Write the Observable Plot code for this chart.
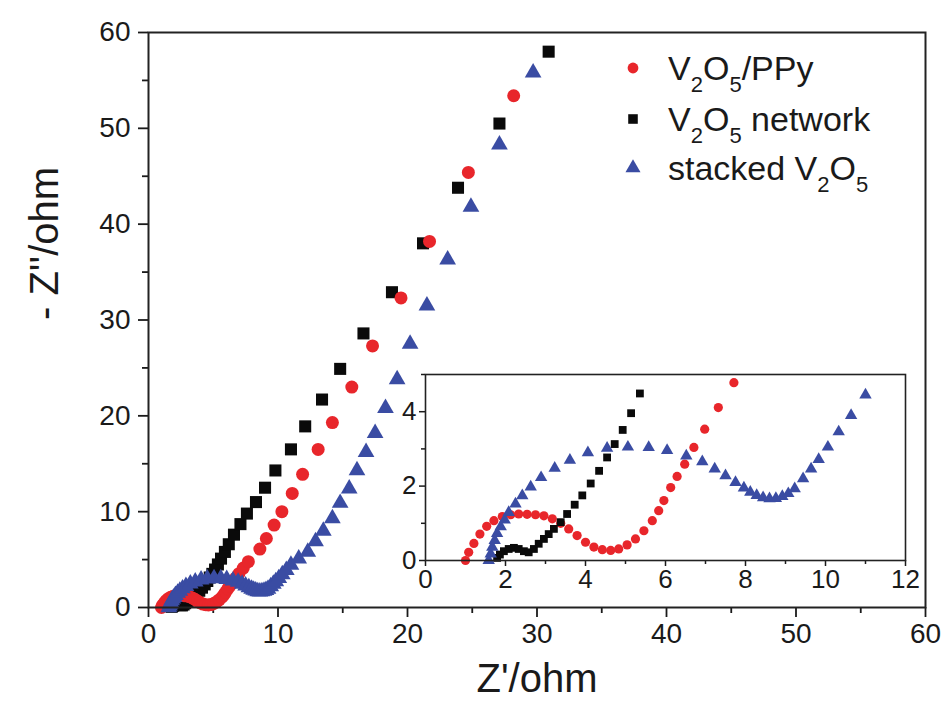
<!DOCTYPE html>
<html><head><meta charset="utf-8">
<script src="https://cdn.jsdelivr.net/npm/d3@7"></script>
<script src="https://cdn.jsdelivr.net/npm/@observablehq/plot@0.6"></script>
<style>
body{margin:0;background:#fff;}
#wrap{position:relative;width:946px;height:713px;overflow:hidden;font-family:"Liberation Sans",Arial,sans-serif;}
#wrap svg{position:absolute;}
</style></head><body><div id="wrap"></div><script>
// ---- data (Z' / ohm, -Z'' / ohm) ----
const ppyX = [1.0,1.08,1.21,1.36,1.53,1.71,1.92,2.13,2.33,2.54,2.75,2.96,3.17,3.38,3.58,3.79,4.0,4.21,4.42,4.63,4.83,5.04,5.25,5.46,5.67,5.83,5.96,6.13,6.29,6.48,6.71,6.98,7.32,7.71,8.6,9.1,9.7,10.3,11.1,11.9,13.1,14.2,15.7,17.3,19.5,21.7,24.7,28.2];
const ppyY = [0.0,0.22,0.46,0.71,0.92,1.07,1.18,1.23,1.25,1.24,1.23,1.2,1.12,1.0,0.85,0.67,0.49,0.36,0.29,0.27,0.31,0.42,0.58,0.8,1.07,1.34,1.61,1.96,2.26,2.59,3.04,3.53,4.11,4.78,6.1,7.2,8.6,10.0,11.9,13.9,16.5,19.3,23.0,27.3,32.3,38.2,45.4,53.4];
const netX = [1.79,1.86,1.96,2.08,2.21,2.33,2.46,2.58,2.71,2.83,2.96,3.08,3.21,3.38,3.54,3.73,3.92,4.13,4.34,4.54,4.73,4.93,5.14,5.36,5.6,5.9,6.2,6.6,7.1,7.6,8.3,9.0,9.8,11.0,12.1,13.4,14.8,16.6,18.8,21.2,23.9,27.1,30.9];
const netY = [0.07,0.16,0.25,0.31,0.34,0.31,0.25,0.22,0.31,0.45,0.58,0.71,0.85,1.03,1.25,1.5,1.75,2.07,2.41,2.77,3.13,3.51,3.96,4.49,5.1,5.8,6.6,7.6,8.7,9.8,11.0,12.5,14.3,16.5,18.9,21.7,24.9,28.6,32.9,38.0,43.8,50.5,58.0];
const stkX = [1.58,1.63,1.67,1.73,1.79,1.88,1.98,2.08,2.25,2.42,2.63,2.89,3.23,3.61,4.06,4.54,5.06,5.58,6.04,6.52,6.92,7.23,7.5,7.75,7.96,8.12,8.28,8.44,8.6,8.76,8.92,9.07,9.23,9.44,9.64,9.83,10.06,10.33,10.64,11.0,11.6,12.3,12.9,13.5,14.2,14.8,15.5,16.1,16.8,17.5,18.3,19.2,20.2,21.5,23.1,24.9,27.1,29.7];
const stkY = [0.0,0.18,0.36,0.54,0.73,0.91,1.09,1.29,1.52,1.74,1.98,2.23,2.48,2.7,2.9,3.02,3.05,3.04,2.96,2.81,2.66,2.46,2.28,2.1,1.95,1.84,1.75,1.69,1.66,1.67,1.72,1.8,1.93,2.2,2.46,2.72,3.05,3.46,3.9,4.45,5.1,5.8,6.9,8.0,9.3,10.9,12.4,14.3,16.2,18.2,20.8,23.8,27.5,31.5,36.3,41.8,48.3,55.8];

const seriesNames = ["V2O5/PPy", "V2O5 network", "stacked V2O5"];
const seriesColors = ["#e8262b", "#0a0a0a", "#3a4ca3"];
const seriesSymbols = ["circle", "square", "triangle"];

const mainTicks = [0,10,20,30,40,50,60];
const mainMinor = [5,15,25,35,45,55];
const insetXTicks = [0,2,4,6,8,10,12];
const insetXMinor = [1,3,5,7,9,11];
const insetYTicks = [0,2,4];
const insetYMinor = [1,3,5];

const xTitle = "Z'/ohm";
const yTitle = "- Z''/ohm";

const pts = (xs, ys) => xs.map((x, i) => ({x, y: ys[i]}));
const ppy = pts(ppyX, ppyY), net = pts(netX, netY), stk = pts(stkX, stkY);

const font = "Liberation Sans, Arial, sans-serif";
const ink = "#1a1a1a";
const fmt = d3.format("d");

const main = Plot.plot({
  width: 946, height: 713,
  marginLeft: 148, marginRight: 21, marginTop: 32, marginBottom: 106,
  x: {domain: [0, 60]}, y: {domain: [0, 60]},
  style: {fontFamily: font, color: ink, background: "transparent", overflow: "visible"},
  marks: [
    Plot.axisX({ticks: mainTicks, tickFormat: fmt, tickSize: 10, tickPadding: 6, fontSize: 28, label: null, strokeWidth: 1.8}),
    Plot.axisX({ticks: mainMinor, tickSize: 6, text: null, label: null, strokeWidth: 1.8}),
    Plot.axisY({ticks: mainTicks, tickFormat: fmt, tickSize: 10, tickPadding: 8, fontSize: 28, label: null, strokeWidth: 1.8}),
    Plot.axisY({ticks: mainMinor, tickSize: 6, text: null, label: null, strokeWidth: 1.8}),
    Plot.dot(net, {x: "x", y: "y", symbol: seriesSymbols[1], r: 6.8, fill: seriesColors[1]}),
    Plot.dot(ppy, {x: "x", y: "y", symbol: seriesSymbols[0], r: 6.5, fill: seriesColors[0]}),
    Plot.dot(stk, {x: "x", y: "y", symbol: seriesSymbols[2], r: 6.2, fill: seriesColors[2]}),
    Plot.frame({stroke: "#222", strokeWidth: 2}),
    Plot.text([xTitle], {frameAnchor: "bottom", dy: 84, fontSize: 40, fill: ink}),
    Plot.text([yTitle], {frameAnchor: "left", dx: -103, rotate: -90, fontSize: 40, fill: ink})
  ]
});
main.style.left = "0px"; main.style.top = "0px";
document.getElementById("wrap").appendChild(main);

// legend (inside main frame, top-right)
const leg = d3.select(main).append("g")
  .attr("font-family", font).attr("fill", ink).attr("text-anchor", "start");
const legRows = [68, 119, 168];
const legParts = [
  [["V",0],["2",1],["O",0],["5",1],["/PPy",0]],
  [["V",0],["2",1],["O",0],["5",1],[" network",0]],
  [["stacked V",0],["2",1],["O",0],["5",1]]
];
const symGen = (s, r) => d3.symbol(s === "circle" ? d3.symbolCircle : s === "square" ? d3.symbolSquare : d3.symbolTriangle, Math.PI * r * r)();
legRows.forEach((cy, i) => {
  leg.append("path").attr("d", symGen(seriesSymbols[i], i === 2 ? 5.6 : 5.4))
     .attr("transform", `translate(633,${cy})`).attr("fill", seriesColors[i]);
  const t = leg.append("text").attr("x", 668).attr("y", cy + 12).attr("font-size", 34)
     .attr("text-anchor", "start").style("white-space", "pre");
  let sub = false;
  legParts[i].forEach(([s, isSub]) => {
    const ts = t.append("tspan").text(s);
    if (isSub && !sub) { ts.attr("dy", 12).attr("font-size", 22); sub = true; }
    else if (isSub && sub) { ts.attr("font-size", 22); }
    else if (!isSub && sub) { ts.attr("dy", -12); sub = false; }
  });
});

// inset
const inIn = d => d.x <= 12 && d.y <= 5;
const inset = Plot.plot({
  width: 540, height: 231,
  marginLeft: 40, marginRight: 20, marginTop: 5, marginBottom: 40,
  x: {domain: [0, 12]}, y: {domain: [0, 5]},
  style: {fontFamily: font, color: ink, background: "transparent", overflow: "visible"},
  marks: [
    Plot.frame({fill: "white", stroke: null}),
    Plot.axisX({ticks: insetXTicks, tickFormat: fmt, tickSize: 6, tickPadding: 3, fontSize: 26, label: null, strokeWidth: 1.5}),
    Plot.axisX({ticks: insetXMinor, tickSize: 4, text: null, label: null, strokeWidth: 1.5}),
    Plot.axisY({ticks: insetYTicks, tickFormat: fmt, tickSize: 6, tickPadding: 3, fontSize: 26, label: null, strokeWidth: 1.5}),
    Plot.axisY({ticks: insetYMinor, tickSize: 4, text: null, label: null, strokeWidth: 1.5}),
    Plot.dot(ppy.filter(inIn), {x: "x", y: "y", symbol: seriesSymbols[0], r: 4.6, fill: seriesColors[0]}),
    Plot.dot(net.filter(inIn), {x: "x", y: "y", symbol: seriesSymbols[1], r: 4.4, fill: seriesColors[1]}),
    Plot.dot(stk.filter(inIn), {x: "x", y: "y", symbol: seriesSymbols[2], r: 4.6, fill: seriesColors[2]}),
    Plot.frame({stroke: "#222", strokeWidth: 1.6})
  ]
});
inset.style.left = "385px"; inset.style.top = "369px";
document.getElementById("wrap").appendChild(inset);
</script></body></html>
